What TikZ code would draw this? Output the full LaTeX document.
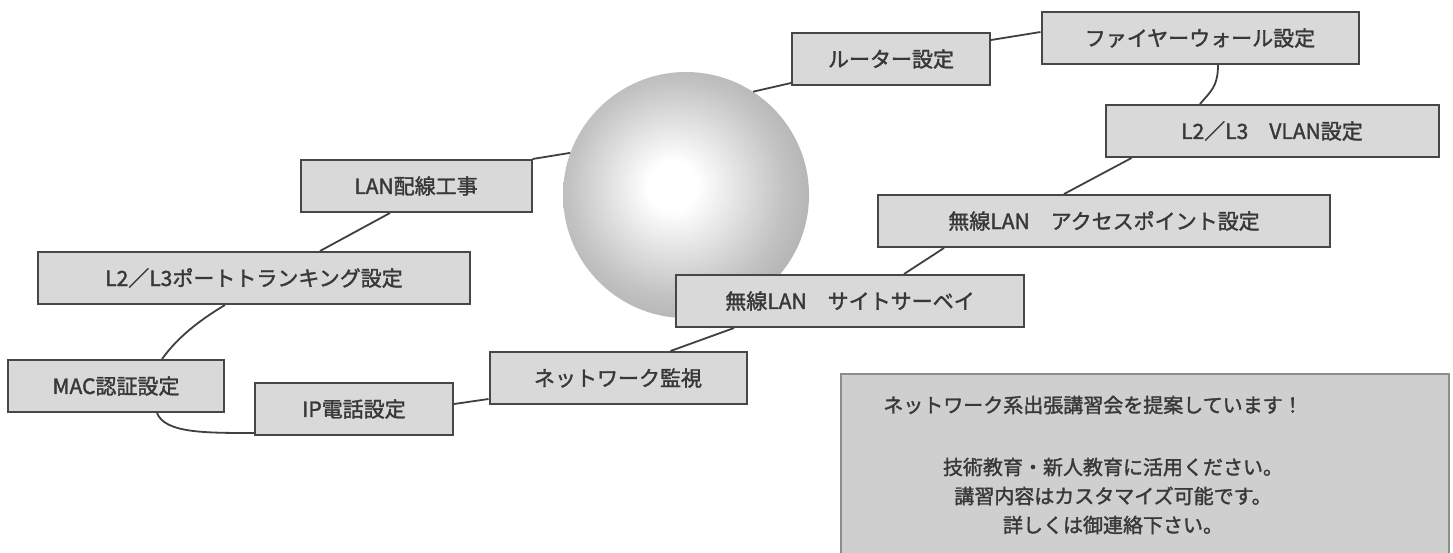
\documentclass[tikz,border=0pt]{standalone}
\usepackage{fontspec}
\newfontfamily\jp[FakeBold=1.6]{Noto Sans CJK JP}
\usetikzlibrary{calc}
\pgfdeclareradialshading{sphshade}{\pgfpoint{-3bp}{2bp}}{color(0bp)=(white); color(5bp)=(white); color(22bp)=(black!24); color(40bp)=(black!42); color(50bp)=(black!50); color(60bp)=(black!52)}
\tikzset{
  boxst/.style={draw=black!72, line width=2pt, fill=black!15, text=black!78,
    font=\jp\fontsize{21}{25}\selectfont, minimum height=52pt, inner sep=0pt},
  conn/.style={draw=black!75, line width=1.8pt},
  infost/.style={draw=black!45, line width=2pt, fill=black!19, inner sep=0pt},
  infotext/.style={text=black!78, font=\jp\fontsize{20}{29}\selectfont, align=center, inner sep=0pt}
}
\begin{document}
\begin{tikzpicture}[x=1pt,y=-1pt]
\useasboundingbox (0,0) rectangle (1453,552);
\clip (0,0) rectangle (1453,552);
\fill[white] (0,0) rectangle (1453,552);

\node[circle, minimum size=246pt, inner sep=0pt, shading=sphshade] (sph) at (686,195) {};

\node[boxst, minimum width=198pt] (router) at (891,59) {ルーター設定};
\node[boxst, minimum width=317pt] (fw) at (1200,38) {ファイヤーウォール設定};
\node[boxst, minimum width=333pt] (vlan) at (1272,131) {L2／L3　VLAN設定};
\node[boxst, minimum width=452pt] (ap) at (1104,221) {無線LAN　アクセスポイント設定};
\node[boxst, minimum width=348pt] (ss) at (850,301) {無線LAN　サイトサーベイ};
\node[boxst, minimum width=257pt] (nw) at (618,378) {ネットワーク監視};
\node[boxst, minimum width=198pt] (ip) at (354,409) {IP電話設定};
\node[boxst, minimum width=216pt] (mac) at (116,386) {MAC認証設定};
\node[boxst, minimum width=432pt] (port) at (254,278) {L2／L3ポートトランキング設定};
\node[boxst, minimum width=231pt] (lan) at (416,186) {LAN配線工事};

\node[infost, minimum width=608pt, minimum height=230pt, anchor=north west] (info) at (840,373) {};
\node[infotext] (infotitle) at (1093,405) {ネットワーク系出張講習会を提案しています！};
\node[infotext] (infobody) at (1113,496) {技術教育・新人教育に活用ください。\\講習内容はカスタマイズ可能です。\\詳しくは御連絡下さい。};

\draw[conn] (lan.north east) -- (sph.160);
\draw[conn] (sph.57) -- ($(router.south west)+(0,-3)$);
\draw[conn] ($(router.north east)+(0,8)$) -- ($(fw.north west)+(0,21)$);
\draw[conn] ($(fw.south)+(18,0)$) .. controls +(0,22) and +(10,-12) .. ($(vlan.north)+(-72,0)$);
\draw[conn] ($(vlan.south west)+(27,0)$) -- ($(ap.north west)+(187,0)$);
\draw[conn] ($(ap.south west)+(67,0)$) -- ($(ss.north west)+(229,0)$);
\draw[conn] ($(ss.south west)+(59,0)$) -- ($(nw.north west)+(182,0)$);
\draw[conn] ($(nw.south west)+(0,-6)$) -- ($(ip.north east)+(0,22)$);
\draw[conn] ($(mac.south)+(41,0)$) .. controls +(8,20) and +(-50,0) .. ($(ip.south west)+(0,-3)$);
\draw[conn] ($(mac.north)+(46,0)$) .. controls +(18,-25) and +(-20,12) .. ($(port.south)+(-29,0)$);
\draw[conn] ($(port.north)+(66,0)$) -- ($(lan.south)+(-26,0)$);
\end{tikzpicture}
\end{document}
